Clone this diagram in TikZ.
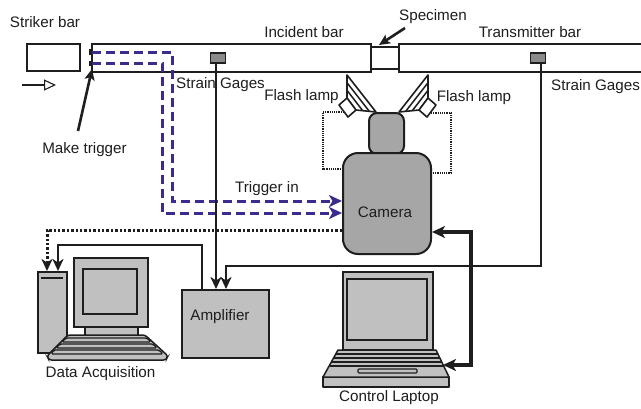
\documentclass[tikz,border=0pt]{standalone}
\usepackage{fontspec}
\setmainfont{Liberation Sans}
\usetikzlibrary{arrows.meta}
\definecolor{trigblue}{HTML}{3A2C8C}
\definecolor{camgray}{HTML}{A6A6A6}
\definecolor{boxgray}{HTML}{C0C0C0}
\definecolor{gagegray}{HTML}{8A8A8A}
\definecolor{ink}{HTML}{1E1E1E}

\begin{document}
\begin{tikzpicture}[x=1pt,y=-1pt,
  lbl/.style={font=\fontsize{15.2}{18}\selectfont, inner sep=0pt, text=ink},
  barbox/.style={draw=ink, line width=1.7pt, inner sep=0pt, outer sep=0pt, anchor=north west},
  gagebox/.style={draw=ink, fill=gagegray, line width=1.2pt, inner sep=0pt, outer sep=0pt,
                  minimum width=15pt, minimum height=10pt},
  pcline/.style={draw=ink, line width=1.5pt},
  wire/.style={draw=ink, line width=2.8pt, -{Stealth[length=12pt,width=11pt,inset=3.5pt]}},
  linkwire/.style={draw=ink, line width=3.2pt,
                   {Stealth[length=13pt,width=12pt,inset=3.5pt]}-{Stealth[length=13pt,width=12pt,inset=3.5pt]}},
  dotwire/.style={draw=ink, line width=3pt, dash pattern=on 2.4pt off 2pt,
                  -{Stealth[length=12pt,width=11pt,inset=3.5pt]}},
  trig/.style={draw=trigblue, line width=3pt, dash pattern=on 9pt off 5pt,
               -{Stealth[length=13pt,width=12pt,inset=3.5pt]}},
  lampwire/.style={draw=ink, line width=1.3pt, dash pattern=on 1.2pt off 1pt},
  pointer/.style={draw=ink, line width=2.6pt, -{Stealth[length=11pt,width=10pt,inset=2.5pt]}}
]
\useasboundingbox[fill=white] (0,0) rectangle (641,408);

% ---------------- bars ----------------
\node[barbox, minimum width=53pt, minimum height=27pt] (striker) at (27,44) {};
\node[barbox, minimum width=279pt, minimum height=28pt] (incident) at (92,44) {};
\node[barbox, minimum width=28pt, minimum height=22pt] (specimen) at (371,47) {};
\node[barbox, minimum width=260pt, minimum height=28pt] (transmitter) at (399,44) {};

% trigger contacts at the end of the incident bar
\fill[ink] (88.5,49) rectangle (92,55);
\fill[ink] (88.5,61) rectangle (92,66);

% strain gages
\node[gagebox] (gageA) at (218,58) {};
\node[gagebox] (gageB) at (538,58) {};

% striker direction
\coordinate (sgo) at (22,85);
\coordinate (sstop) at (56,85);
\draw[ink, line width=1.1pt, -{Triangle[open, length=12pt, width=11pt]}] (sgo) -- (sstop);

% ---------------- labels ----------------
\node[lbl] (lstriker) at (45,22) {Striker bar};
\node[lbl] (lincident) at (304,32) {Incident bar};
\node[lbl] (lspecimen) at (433,17) {Specimen};
\node[lbl] (ltrans) at (530,32) {Transmitter bar};
\node[lbl] (lgageA) at (220.5,85) {Strain Gages};
\node[lbl, anchor=west] (lgageB) at (551,87) {Strain Gages};
\node[lbl] (llampL) at (301.5,97) {Flash lamp};
\node[lbl] (llampR) at (474,98) {Flash lamp};
\node[lbl] (lmake) at (84.5,150) {Make trigger};
\node[lbl] (ltrig) at (267,189) {Trigger in};

% pointers
\coordinate (makeTail) at (78,131);
\coordinate (makeTip) at (92,69);
\draw[pointer] (makeTail) -- (makeTip);
\coordinate (specTail) at (405,28);
\coordinate (specTip) at (379,45);
\draw[pointer] (specTail) -- (specTip);

% ---------------- camera ----------------
\node[draw=ink, line width=2pt, fill=camgray, rounded corners=8pt, inner sep=0pt,
      minimum width=35pt, minimum height=41pt] (lens) at (386.5,133.5) {};
\node[draw=ink, line width=2pt, fill=camgray, rounded corners=15pt, inner sep=0pt,
      minimum width=88pt, minimum height=101pt] (camera) at (387,203.5) {};
\node[lbl] (lcamera) at (385,212) {Camera};

% ---------------- flash lamps (left one, then its mirror image) ----------------
\foreach \mx/\sx in {0/1, 775/-1}{
  \begin{scope}[xshift=\mx pt, xscale=\sx]
    \draw[ink, line width=1.6pt, fill=white, line join=round]
      (347,98) -- (347,75) -- (376,112) -- (356,110) -- cycle;
    \draw[ink, line width=1.5pt] (347,90.3) -- (362.7,110.7);
    \draw[ink, line width=1.5pt] (347,82.7) -- (369.3,111.3);
    \draw[ink, line width=1.6pt, fill=white, line join=round]
      (339,105) -- (347,98) -- (356,110) -- (348,117) -- cycle;
  \end{scope}
}
% lamp power leads to the camera
\coordinate (lampL) at (344,112);
\coordinate (lampLc) at (323,169);
\draw[lampwire] (lampL) -| (lampLc) -- (camera.west |- lampLc);
\coordinate (lampR) at (431,113);
\coordinate (lampRc) at (451,173);
\draw[lampwire] (lampR) -| (lampRc) -- (camera.east |- lampRc);

% ---------------- amplifier ----------------
\node[draw=ink, line width=1.5pt, fill=boxgray, inner sep=0pt, anchor=north west,
      minimum width=87pt, minimum height=68pt] (amp) at (181,289) {};
\node[lbl] (lamp) at (220,317) {Amplifier};

% ---------------- data acquisition PC ----------------
\node[draw=ink, line width=1.5pt, fill=boxgray, inner sep=0pt, anchor=north west,
      minimum width=29pt, minimum height=81pt] (tower) at (37,271) {};
\draw[ink, line width=2.2pt] (41,278) -- (63,278);
\node[draw=ink, line width=1.5pt, fill=boxgray, inner sep=0pt, anchor=north west,
      minimum width=53pt, minimum height=9pt] (daqneck) at (84,326) {};
\node[draw=ink, line width=1.5pt, fill=boxgray, inner sep=0pt, anchor=north west,
      minimum width=74pt, minimum height=69pt] (daqmon) at (73,257) {};
\draw[ink, line width=1.7pt] (83,269) rectangle (137,314);
\draw[pcline, fill=boxgray, rounded corners=2.5pt]
  (68,335) -- (145,335) -- (168,356) -- (166,360) -- (49,360) -- (47,356) -- cycle;
\draw[ink, line width=1.3pt, rounded corners=1.5pt] (66,338) -- (147,338) -- (151,342) -- (62,342) -- cycle;
\draw[ink, line width=1.3pt, rounded corners=1.5pt] (60,344) -- (153,344) -- (157,348) -- (56,348) -- cycle;
\draw[ink, line width=1.3pt, rounded corners=1.5pt] (54,350) -- (159,350) -- (163,354) -- (51,354) -- cycle;
\node[lbl] (ldaq) at (100.5,374) {Data Acquisition};

% ---------------- control laptop ----------------
\node[draw=ink, line width=1.5pt, fill=boxgray, inner sep=0pt, anchor=north west,
      minimum width=90pt, minimum height=78pt] (lapscreen) at (342,271) {};
\draw[ink, line width=1.7pt] (347,279) rectangle (427,340);
\draw[pcline, fill=boxgray, line join=round] (323,377) rectangle (449,387);
\draw[pcline, fill=boxgray, line join=round] (338,350) -- (436,350) -- (449,377) -- (323,377) -- cycle;
\draw[ink, line width=1.2pt] (336,354) -- (438,354);
\draw[ink, line width=1.2pt] (334,358) -- (440,358);
\draw[ink, line width=1.2pt] (332,362) -- (442,362);
\draw[ink, line width=1.2pt] (330,366) -- (444,366);
\draw[ink, line width=1.2pt, fill=boxgray, rounded corners=1pt] (358,369) rectangle (417,373);
\node[lbl] (llaptop) at (389,398) {Control Laptop};

% ---------------- connections ----------------
% trigger leads from the bar end into the camera
\coordinate (trigA) at (92,52);
\coordinate (trigB) at (92,63);
\coordinate (dA) at (172,201);
\coordinate (dB) at (162,213);
\draw[trig] (trigA) -| (dA) -- (camera.west |- dA);
\draw[trig] (trigB) -| (dB) -- (camera.west |- dB);

% camera output to the data acquisition PC
\coordinate (dotrow) at (0,230);
\coordinate (daqinA) at (47,271);
\draw[dotwire] (camera.west |- dotrow) -| (daqinA);

% strain gage signals into the amplifier
\coordinate (ampinA) at (216,289);
\coordinate (ampinB) at (226,289);
\coordinate (trow) at (0,266);
\draw[wire] (gageA.south -| ampinA) -- (ampinA);
\draw[wire] ([xshift=3pt]gageB.south) |- (ampinB |- trow) -- (ampinB);

% amplifier output to the data acquisition PC
\coordinate (ampout) at (202,289);
\coordinate (arow) at (0,245);
\coordinate (daqinB) at (58,271);
\draw[wire] (ampout) -- (ampout |- arow) -| (daqinB);

% camera <-> control laptop
\coordinate (crow) at (0,232);
\coordinate (lcol) at (471,0);
\coordinate (lapin) at (443,365);
\draw[linkwire] (camera.east |- crow) -- (lcol |- crow) |- (lapin);
\end{tikzpicture}
\end{document}
